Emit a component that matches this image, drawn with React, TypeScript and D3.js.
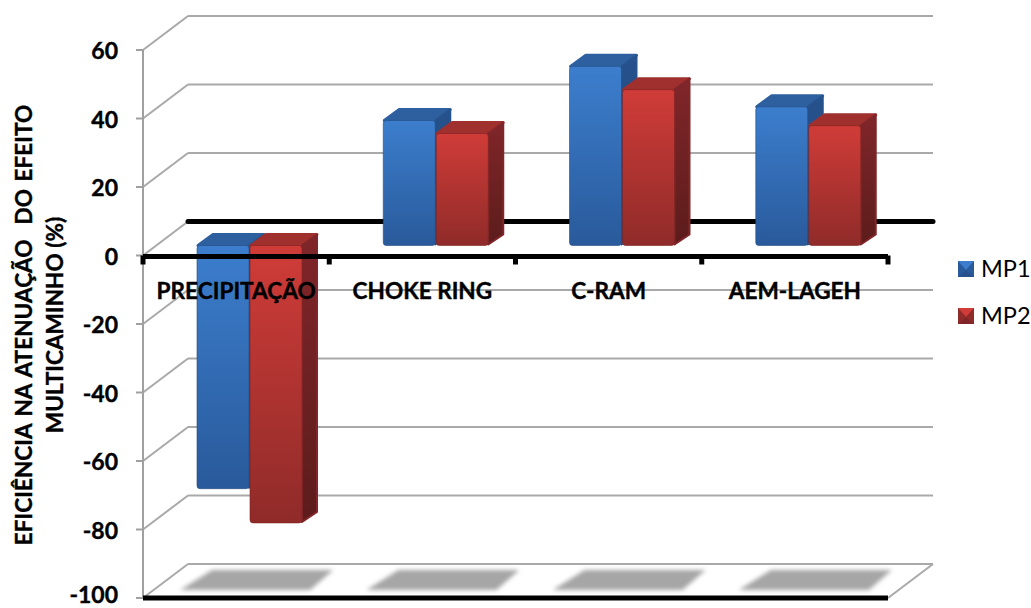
import React from "react";
import * as d3 from "d3";

// Attenuation efficiency per technique, in percent
const categories = ["PRECIPITAÇÃO", "CHOKE RING", "C-RAM", "AEM-LAGEH"];
const mp1Values = [-71, 36.5, 52.3, 40.5];
const mp2Values = [-81, 32.7, 45.5, 35];
const yTicks = [60, 40, 20, 0, -20, -40, -60, -80, -100];
const axisTitleLines = ["EFICIÊNCIA NA ATENUAÇÃO  DO EFEITO", "MULTICAMINHO (%)"];
const seriesNames = ["MP1", "MP2"];

const FONT = "Lato, 'Open Sans', sans-serif";
const W = 1031;
const H = 608;
const wallDx = 45;
const wallDy = -34;
const barDx = 16;
const barDy = -12;
const barWidth = 52;
const barBaseShift = -10;

const y = d3.scaleLinear().domain([60, -100]).range([50, 598]);
const x = d3.scaleBand<string>().domain(categories).range([143, 888]);

const palettes = [
  { id: "b", topC: "#3c7ecd", botC: "#295a9b", lid: "#2e609f", sideA: "#26528d", sideB: "#1f4474", edge: "#23497f" },
  { id: "r", topC: "#d03c38", botC: "#8f2b29", lid: "#9f302d", sideA: "#80262a", sideB: "#5c1c1b", edge: "#7c2220" },
];

function poly(pts: [number, number][]) {
  return pts.map((p) => p.join(",")).join(" ");
}

function Bar({ x0, value, pal }: { x0: number; value: number; pal: (typeof palettes)[number] }) {
  const base = y(0) + barBaseShift;
  const end = y(value) + barBaseShift;
  const top = Math.min(base, end);
  const bot = Math.max(base, end);
  const x1 = x0 + barWidth;
  return (
    <g>
      <polygon
        points={poly([[x0 + 1, top], [x0 + barDx, top + barDy + 1], [x1 + barDx - 1, top + barDy + 1], [x1, top]])}
        fill={pal.lid}
        stroke={pal.lid}
        strokeLinejoin="round"
        strokeWidth={3}
      />
      <polygon
        points={poly([[x1, top], [x1 + barDx - 1, top + barDy + 1], [x1 + barDx - 1, bot + barDy + 1], [x1, bot - 1]])}
        fill={`url(#side-${pal.id})`}
        stroke={pal.sideA}
        strokeLinejoin="round"
        strokeWidth={2}
      />
      <rect x={x0} y={top} width={barWidth} height={bot - top} rx={3} fill={`url(#front-${pal.id})`} stroke={pal.edge} strokeWidth={0.6} />
    </g>
  );
}

function LegendSwatch({ sx, sy, pal }: { sx: number; sy: number; pal: (typeof palettes)[number] }) {
  const s = 16;
  return (
    <g>
      <rect x={sx} y={sy} width={s} height={s} fill={pal.botC} />
      <polygon points={poly([[sx, sy], [sx + s, sy], [sx + s / 2, sy + s * 0.55]])} fill={pal.topC} />
      <polygon points={poly([[sx, sy + s], [sx + s, sy + s], [sx + s / 2, sy + s * 0.6]])} fill={pal.sideA} />
    </g>
  );
}

export default function App() {
  const left = x.range()[0];
  const right = x.range()[1];
  const bw = x.bandwidth();
  const gridBack = yTicks.filter((t) => t !== 0);
  const dividers = d3.range(categories.length + 1).map((i) => left + i * bw);
  const heavy = { stroke: "#000", strokeWidth: 0.4 };

  return (
    <svg
      width={W}
      height={H}
      viewBox={`0 0 ${W} ${H}`}
      style={{ position: "absolute", left: 0, top: 0, background: "#fff", fontFamily: FONT }}
    >
      <defs>
        {palettes.map((p) => (
          <React.Fragment key={p.id}>
            <linearGradient id={`front-${p.id}`} x1="0" y1="0" x2="0" y2="1">
              <stop offset="0" stopColor={p.topC} />
              <stop offset="1" stopColor={p.botC} />
            </linearGradient>
            <linearGradient id={`side-${p.id}`} x1="0" y1="0" x2="0" y2="1">
              <stop offset="0" stopColor={p.sideA} />
              <stop offset="1" stopColor={p.sideB} />
            </linearGradient>
          </React.Fragment>
        ))}
        <filter id="soft" x="-10%" y="-30%" width="120%" height="160%">
          <feGaussianBlur stdDeviation="2" />
        </filter>
        <filter id="axisGlow" x="-5%" y="-200%" width="110%" height="500%">
          <feGaussianBlur stdDeviation="2" />
        </filter>
      </defs>

      {/* Back wall gridlines and the left wall diagonals */}
      {gridBack.map((t) => (
        <line key={t} x1={left + wallDx} x2={right + wallDx} y1={y(t) + wallDy} y2={y(t) + wallDy} stroke="#a9a9a9" strokeWidth={2} />
      ))}
      {yTicks.map((t) => (
        <g key={t}>
          <line x1={left} x2={left + wallDx} y1={y(t)} y2={y(t) + wallDy} stroke="#a9a9a9" strokeWidth={2} />
          <line x1={left - 7} x2={left} y1={y(t)} y2={y(t)} stroke="#a0a0a0" strokeWidth={2} />
        </g>
      ))}
      <line x1={left} x2={left} y1={y(60)} y2={y(-100)} stroke="#a0a0a0" strokeWidth={2} />
      <line x1={right} x2={right + wallDx} y1={y(-100)} y2={y(-100) + wallDy} stroke="#a9a9a9" strokeWidth={2} />

      {/* Zero level on the back wall */}
      <line x1={left + wallDx} x2={right + wallDx} y1={y(0) + wallDy} y2={y(0) + wallDy} stroke="#000" strokeWidth={5} strokeLinecap="round" />

      {/* Floor shadows under each group */}
      {categories.map((c) => {
        const cx = (x(c) as number) + bw / 2;
        return (
          <polygon
            key={c}
            points={poly([[cx - 56, y(-100) - 8], [cx + 74, y(-100) - 8], [cx + 97, y(-100) - 28], [cx - 24, y(-100) - 28]])}
            fill="#a6a6a6"
            filter="url(#soft)"
          />
        );
      })}

      {/* Horizontal axis at zero with a soft drop shadow */}
      <line x1={left} x2={right} y1={y(0) + 3} y2={y(0) + 3} stroke="#777" strokeWidth={4} filter="url(#axisGlow)" opacity={0.5} />

      {/* Columns, first series then second so the second overlaps */}
      {categories.map((c, i) => {
        const x0 = (x(c) as number) + 54;
        return (
          <g key={c}>
            <Bar x0={x0} value={mp1Values[i]} pal={palettes[0]} />
            <Bar x0={x0 + barWidth + 1} value={mp2Values[i]} pal={palettes[1]} />
          </g>
        );
      })}

      <line x1={left} x2={right} y1={y(0) + 1} y2={y(0) + 1} stroke="#000" strokeWidth={5} />
      {dividers.map((d) => (
        <line key={d} x1={d} x2={d} y1={y(0)} y2={y(0) + 9} stroke="#000" strokeWidth={5} />
      ))}
      <line x1={left} x2={right} y1={y(-100)} y2={y(-100)} stroke="#000" strokeWidth={5} />

      {/* Category labels sit just under the zero axis */}
      {categories.map((c) => (
        <text
          key={c}
          x={(x(c) as number) + bw / 2}
          y={y(0) + 43}
          textAnchor="middle"
          fontSize={22.6}
          fontWeight={700}
          fill="#000"
          {...heavy}
        >
          {c}
        </text>
      ))}

      {/* Value axis labels; the lowest one is held inside the page */}
      {yTicks.map((t) => (
        <text key={t} x={118} y={Math.min(y(t) + 9, 603)} textAnchor="end" fontSize={23} fontWeight={700} fill="#000" {...heavy}>
          {t}
        </text>
      ))}

      {axisTitleLines.map((line, i) => (
        <text
          key={i}
          transform={`translate(${32 + i * 31},325) rotate(-90)`}
          textAnchor="middle"
          fontSize={22.6}
          fontWeight={700}
          fill="#000"
          wordSpacing={i === 0 ? 2 : 0}
          style={{ whiteSpace: "pre" }}
          {...heavy}
        >
          {line}
        </text>
      ))}

      {/* Legend */}
      {seriesNames.map((name, i) => (
        <g key={name}>
          <LegendSwatch sx={958} sy={261 + i * 47} pal={palettes[i]} />
          <text x={981} y={277 + i * 47} fontSize={23.5} fill="#000">
            {name}
          </text>
        </g>
      ))}
    </svg>
  );
}
